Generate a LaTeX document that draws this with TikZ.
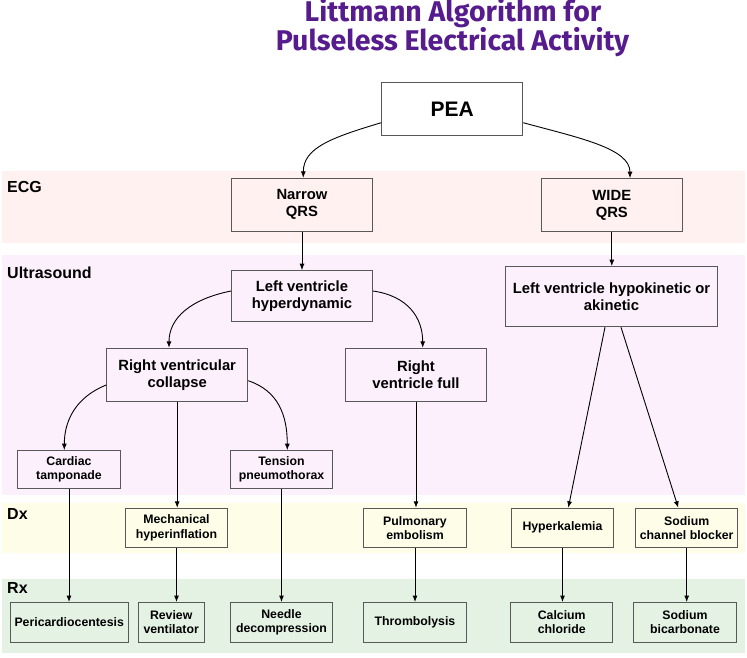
\documentclass[tikz,border=0pt]{standalone}
\usepackage{fontspec}
\setmainfont{Liberation Sans}
\newfontfamily\titlefont{Fira Sans}
\usetikzlibrary{arrows.meta}
\definecolor{ecgband}{RGB}{254,241,240}
\definecolor{usband}{RGB}{252,240,252}
\definecolor{dxband}{RGB}{254,253,232}
\definecolor{rxband}{RGB}{228,242,228}
\definecolor{titlepurple}{RGB}{86,28,142}
\definecolor{boxline}{RGB}{88,88,88}
\newcommand{\drawband}[3]{\fill[#1] (2,#2) rectangle (745,#3);}
\tikzset{
  box/.style={draw=boxline, line width=1pt, inner sep=0pt, align=center,
    minimum width=141pt, minimum height=52.7pt, font=\fontsize{14.8}{17}\selectfont\bfseries},
  smallbox/.style={box, minimum width=102.4pt, minimum height=38.5pt, font=\fontsize{12.3}{14.3}\selectfont\bfseries},
  rowlabel/.style={anchor=base west, inner sep=0pt, font=\fontsize{16}{18}\selectfont\bfseries},
  titleline/.style={anchor=base, inner sep=0pt, text=titlepurple, font=\titlefont\fontsize{28.5}{30}\selectfont\bfseries},
  arr/.style={-{Latex[length=6.5pt,width=5pt]}, line width=0.9pt},
}
\begin{document}
\begin{tikzpicture}[x=1pt,y=-1pt]
\useasboundingbox (0,0) rectangle (747,657);
% bands
\drawband{ecgband}{171}{242.7}
\drawband{usband}{255}{495}
\drawband{dxband}{503.3}{553.3}
\drawband{rxband}{579}{653}
\node[rowlabel] (ecg) at (7,192.3) {ECG};
\node[rowlabel] (us) at (7,278) {Ultrasound};
\node[rowlabel] (dx) at (7,519.3) {Dx};
\node[rowlabel] (rx) at (7,593.3) {Rx};
% title
\node[titleline] (title1) at (453,21.7) {Littmann Algorithm for};
\node[titleline] (title2) at (452.5,50) {Pulseless Electrical Activity};
% boxes
\node[box, font=\fontsize{21}{24}\selectfont\bfseries] (pea) at (452.2,109.3) {PEA};
\node[box] (nq) at (302,204.7) {Narrow\\QRS};
\node[box] (wq) at (611.8,205) {WIDE\\QRS};
\node[box, minimum height=51.3pt] (lvh) at (302,296.3) {Left ventricle\\hyperdynamic};
\node[box, minimum width=211.6pt, minimum height=60pt] (hk) at (611.5,296.7) {Left ventricle hypokinetic or\\akinetic};
\node[box, minimum height=53pt] (rvc) at (177.2,374.8) {Right ventricular\\collapse};
\node[box, minimum height=53.4pt] (rvf) at (416,375) {Right\\ventricle full};
\node[smallbox, minimum width=103.4pt, minimum height=37.6pt] (ct) at (69,469.5) {Cardiac\\tamponade};
\node[smallbox, minimum height=37.6pt] (tp) at (281.5,469.5) {Tension\\pneumothorax};
\node[smallbox, minimum height=39pt] (mh) at (176.5,527.8) {Mechanical\\hyperinflation};
\node[smallbox, minimum width=103.4pt, minimum height=39pt] (pe) at (415,527.8) {Pulmonary\\embolism};
\node[smallbox, minimum width=101.6pt, minimum height=39pt] (hyk) at (562.5,527.8) {Hyperkalemia};
\node[smallbox, minimum width=102pt, minimum height=39pt] (scb) at (686.7,527.8) {Sodium\\channel blocker};
\node[smallbox, minimum width=118.3pt, minimum height=39.5pt] (pc) at (69.2,622.3) {Pericardiocentesis};
\node[smallbox, minimum width=65.7pt, minimum height=39.5pt] (rv) at (171.2,622.3) {Review\\ventilator};
\node[smallbox, minimum width=101.6pt, minimum height=39.5pt] (nd) at (281.5,622.3) {Needle\\decompression};
\node[smallbox, minimum width=103.4pt, minimum height=39.5pt] (th) at (415,622.3) {Thrombolysis};
\node[smallbox, minimum width=102pt, minimum height=39.5pt] (cc) at (561.7,622.3) {Calcium\\chloride};
\node[smallbox, minimum width=103.4pt, minimum height=39.5pt] (sb) at (685,622.3) {Sodium\\bicarbonate};
% curved arrows
\draw[arr] ([yshift=-13.4pt]pea.west) .. controls +(-50,15) and +(0,-30) .. ([xshift=1.3pt]nq.north);
\draw[arr] ([yshift=-13.4pt]pea.east) .. controls +(55,15) and +(0,-30) .. ([xshift=18.2pt]wq.north);
\draw[arr] ([yshift=5.3pt]lvh.west) .. controls +(-40,8) and +(0,-30) .. ([xshift=-8.2pt]rvc.north);
\draw[arr] ([yshift=5.3pt]lvh.east) .. controls +(35,5) and +(0,-30) .. ([xshift=6.7pt]rvf.north);
\draw[arr] ([yshift=-10.2pt]rvc.west) .. controls +(-30,12) and +(0,-30) .. ([xshift=-4.7pt]ct.north);
\draw[arr] ([yshift=-5.9pt]rvc.east) .. controls +(30,10) and +(0,-35) .. ([xshift=5.8pt]tp.north);
% straight arrows
\draw[arr] (nq.south) -- (lvh.north);
\draw[arr] (wq.south) -- (wq.south |- hk.north);
\draw[arr] (rvc.south) -- (rvc.south |- mh.north);
\draw[arr] (rvf.south) -- (rvf.south |- pe.north);
\draw[arr] ([xshift=-6.5pt]hk.south) -- ([xshift=5.8pt]hyk.north);
\draw[arr] ([xshift=9.5pt]hk.south) -- ([xshift=-8.4pt]scb.north);
\draw[arr] (ct.south) -- (ct.south |- pc.north);
\draw[arr] (mh.south) -- (mh.south |- rv.north);
\draw[arr] (tp.south) -- (tp.south |- nd.north);
\draw[arr] (pe.south) -- (pe.south |- th.north);
\draw[arr] (hyk.south) -- (hyk.south |- cc.north);
\draw[arr] (scb.south) -- (scb.south |- sb.north);
\end{tikzpicture}
\end{document}
